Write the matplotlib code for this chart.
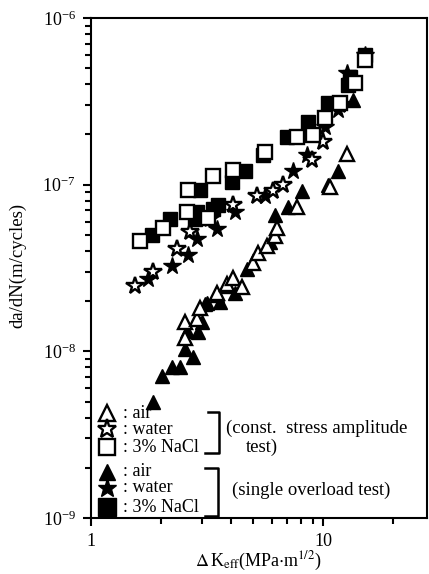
import matplotlib
matplotlib.use("Agg")
import matplotlib.pyplot as plt
from matplotlib.ticker import LogLocator, NullFormatter

plt.rcParams['font.family'] = ['Liberation Serif', 'DejaVu Serif']
plt.rcParams['mathtext.fontset'] = 'stix'

# =========================
# DATA
# =========================
# const. stress amplitude test (open symbols)
air_const_x = [2.54, 2.54, 2.86, 2.95, 3.49, 3.86, 4.09, 4.48, 4.99, 5.25, 5.74, 6.21, 6.34, 7.72, 10.7, 12.7]
air_const_y = [1.51e-8, 1.21e-8, 1.56e-8, 1.83e-8, 2.25e-8, 2.52e-8, 2.77e-8, 2.42e-8, 3.41e-8, 3.9e-8,
               4.3e-8, 4.9e-8, 5.5e-8, 7.3e-8, 9.7e-8, 1.53e-7]

water_const_x = [1.55, 1.85, 2.35, 2.67, 3.26, 4.09, 5.19, 6.09, 6.73, 8.97, 10.0, 11.8]
water_const_y = [2.48e-8, 3.01e-8, 4.1e-8, 5.2e-8, 6.2e-8, 7.6e-8, 8.5e-8, 9.1e-8, 1.0e-7, 1.41e-7,
                 1.81e-7, 3.01e-7]

nacl_const_x = [1.63, 2.04, 2.59, 2.62, 3.19, 3.36, 4.09, 5.62, 7.72, 9.06, 10.2, 11.8, 13.7, 15.2]
nacl_const_y = [4.6e-8, 5.5e-8, 6.9e-8, 9.3e-8, 6.3e-8, 1.12e-7, 1.23e-7, 1.56e-7, 1.94e-7, 1.99e-7,
                2.52e-7, 3.1e-7, 4.08e-7, 5.6e-7]

# single overload test (filled symbols)
air_over_x = [1.85, 2.02, 2.23, 2.42, 2.54, 2.75, 2.59, 2.89, 3.01, 3.10, 3.16, 3.49, 3.60, 4.18, 3.86,
              4.70, 5.91, 6.21, 7.06, 8.11, 10.5, 11.6, 13.5]
air_over_y = [5.0e-9, 7.1e-9, 8.0e-9, 8.1e-9, 1.03e-8, 9.2e-9, 1.32e-8, 1.30e-8, 1.49e-8, 1.91e-8,
              1.96e-8, 2.19e-8, 1.99e-8, 2.25e-8, 2.45e-8, 3.1e-8, 4.5e-8, 6.6e-8, 7.3e-8, 9.1e-8,
              1.0e-7, 1.21e-7, 3.23e-7]

water_over_x = [1.76, 2.23, 2.62, 2.86, 3.49, 4.18, 5.62, 7.43, 8.53, 10.2, 11.6, 12.7, 15.2]
water_over_y = [2.7e-8, 3.23e-8, 3.8e-8, 4.7e-8, 5.4e-8, 6.9e-8, 8.5e-8, 1.21e-7, 1.51e-7, 2.22e-7,
                2.81e-7, 4.69e-7, 6.0e-7]

nacl_over_x = [1.83, 2.19, 2.81, 2.86, 2.95, 3.36, 3.53, 4.05, 4.61, 5.51, 7.00, 8.61, 10.5, 12.8, 13.1, 15.2]
nacl_over_y = [5.0e-8, 6.2e-8, 6.2e-8, 6.9e-8, 9.3e-8, 7.1e-8, 7.6e-8, 1.04e-7, 1.2e-7, 1.51e-7,
               1.94e-7, 2.38e-7, 3.1e-7, 3.97e-7, 4.44e-7, 6.0e-7]

LEGEND_ROWS = ["air", "water", "3% NaCl", "air", "water", "3% NaCl"]

# =========================
# FIGURE
# =========================
W, H = 429, 574
fig = plt.figure(figsize=(W / 100, H / 100), dpi=100)
ax = fig.add_axes([91 / W, (H - 518) / H, 336 / W, 500 / H])

filled = dict(color='black', ls='none', zorder=3)
opened = dict(mfc='white', mec='black', mew=1.7, ls='none', zorder=4)

ax.plot(air_over_x, air_over_y, marker='^', ms=10.5, **filled)
ax.plot(water_over_x, water_over_y, marker='*', ms=13, **filled)
ax.plot(nacl_over_x, nacl_over_y, marker='s', ms=10, **filled)
ax.plot(air_const_x, air_const_y, marker='^', ms=10.5, **opened)
ax.plot(water_const_x, water_const_y, marker='*', ms=13, **opened)
ax.plot(nacl_const_x, nacl_const_y, marker='s', ms=10, **opened)

ax.set_xscale('log')
ax.set_yscale('log')
ax.set_xlim(1, 28)
ax.set_ylim(1e-9, 1e-6)

ax.xaxis.set_minor_locator(LogLocator(base=10, subs=range(2, 10)))
ax.xaxis.set_minor_formatter(NullFormatter())
ax.set_xticks([1, 10])
ax.set_xticklabels(['1', '10'])
ax.yaxis.set_minor_locator(LogLocator(base=10, subs=range(2, 10)))
ax.yaxis.set_minor_formatter(NullFormatter())

ax.tick_params(which='both', direction='out', top=False, right=False, width=1.5)
ax.tick_params(which='major', length=6, labelsize=13, pad=5)
ax.tick_params(which='minor', length=4.5)
for sp in ax.spines.values():
    sp.set_linewidth(1.5)

fig.text(18 / W, 1 - 265 / H, "da/dN(m/cycles)", rotation=90, ha='center', va='center', fontsize=13.5)
fig.text(258 / W, 1 - 561 / H, r"$\Delta\,$K$_{\rm eff}$(MPa$\cdot$m$^{1/2}$)", ha='center', va='center',
         fontsize=13)

# =========================
# LEGEND (hand-drawn, like the original)
# =========================
def fx(px):
    return (px - 91) / 336

def fy(py):
    return (518 - py) / 500

rows_py = [413, 429, 447, 472, 488, 507]
marks = [('^', 12, opened), ('*', 14, opened), ('s', 12, opened),
         ('^', 12, filled), ('*', 14, filled), ('s', 13, filled)]
for py, label, (m, size, st) in zip(rows_py, LEGEND_ROWS, marks):
    ax.plot([fx(107)], [fy(py)], marker=m, ms=size, transform=ax.transAxes, clip_on=False, **st)
    ax.text(fx(123), fy(py), ": " + label, transform=ax.transAxes, ha='left', va='center', fontsize=13)

bk = dict(color='black', lw=1.8, transform=ax.transAxes, clip_on=False)
ax.plot([fx(208), fx(219), fx(219), fx(205)], [fy(412), fy(412), fy(453), fy(453)], **bk)
ax.plot([fx(205), fx(218), fx(218), fx(205)], [fy(468), fy(468), fy(516), fy(516)], **bk)
ax.text(fx(226), fy(428), "(const.  stress amplitude", transform=ax.transAxes, ha='left', va='center',
        fontsize=13.5)
ax.text(fx(246), fy(447), "test)", transform=ax.transAxes, ha='left', va='center', fontsize=13.5)
ax.text(fx(232), fy(490), "(single overload test)", transform=ax.transAxes, ha='left', va='center',
        fontsize=13.5)

fig.savefig("out.png", dpi=100)
